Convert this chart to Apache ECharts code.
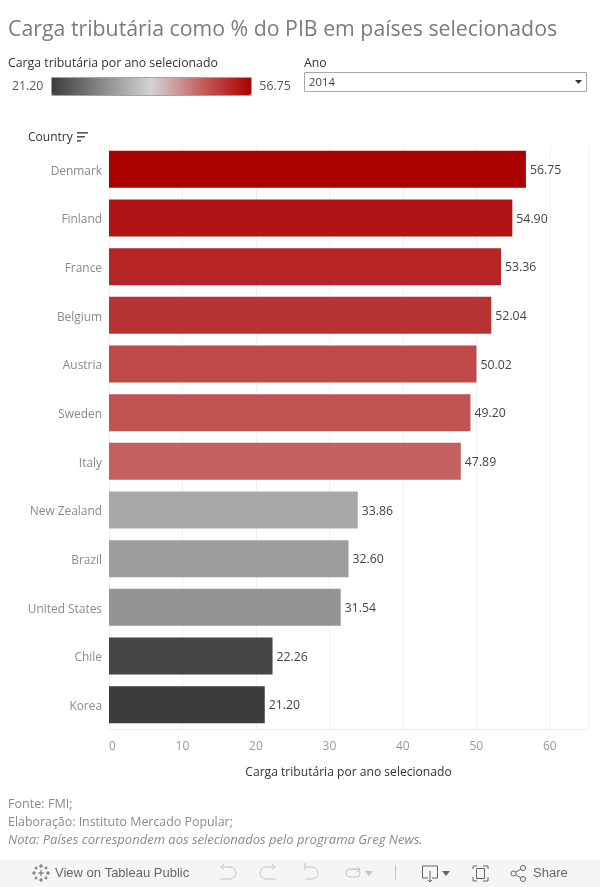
<!DOCTYPE html>
<html><head><meta charset="utf-8">
<style>html,body{margin:0;padding:0;background:#fff}#c{width:600px;height:887px}</style>
<script src="https://cdn.jsdelivr.net/npm/echarts@6/dist/echarts.min.js"></script>
</head><body><div id="c"></div>
<script>
const countries = ['Denmark','Finland','France','Belgium','Austria','Sweden','Italy','New Zealand','Brazil','United States','Chile','Korea'];
const taxLoad = [56.75,54.90,53.36,52.04,50.02,49.20,47.89,33.86,32.60,31.54,22.26,21.20];
const xTicks = [0,10,20,30,40,50,60];
const rampColors = ['#3c3c3c','#888888','#d3d3d3','#c46060','#ab0000'];
const footLines = ['Fonte: FMI;','Elaboração: Instituto Mercado Popular;'];
const footNote = 'Nota: Países correspondem aos selecionados pelo programa Greg News.';
const F = '"Open Sans", Lato, sans-serif';
const T = '"Liberation Sans", Arial, sans-serif';
const chart = echarts.init(document.getElementById('c'),null,{renderer:'canvas'});
const t=(x,y,text,size,fill,extra)=>({type:'text',x,y,silent:true,style:Object.assign({text,fontSize:size,fontFamily:F,fill,textVerticalAlign:'middle'},extra||{})});
const line=(pts,stroke,w)=>({type:'polyline',silent:true,shape:{points:pts},style:{stroke:stroke||'#9a9a9a',lineWidth:w||1,fill:null}});
const ring=(cx,cy,r,stroke)=>({type:'circle',silent:true,shape:{cx,cy,r},style:{fill:'none',stroke,lineWidth:1}});
const arc=(cx,cy,r,a,b,stroke)=>({type:'arc',silent:true,shape:{cx,cy,r,startAngle:a,endAngle:b,clockwise:true},style:{fill:null,stroke,lineWidth:1}});
const G='#c4c4c4', D='#666';
const crossAt=(x,y,s)=>[line([[x-s,y],[x+s,y]],D,1),line([[x,y-s],[x,y+s]],D,1)];
const gfx=[
 t(8,30,'Carga tributária como % do PIB em países selecionados',21.3,'#7b7b7b'),
 t(8,63,'Carga tributária por ano selecionado',12.3,'#333'),
 t(304,63,'Ano',12.3,'#333'),
 {type:'rect',silent:true,shape:{x:304.5,y:72.5,width:282,height:19},style:{fill:'#fff',stroke:'#a8a8a8',lineWidth:1}},
 t(309,83,'2014',11.3,'#444'),
 {type:'polygon',silent:true,shape:{points:[[575,80],[582,80],[578.5,84]]},style:{fill:'#333'}},
 {type:'rect',silent:true,z:10,shape:{x:51.5,y:77.5,width:200,height:18},style:{fill:null,stroke:'#a5a39a',lineWidth:1}},
 line([[151.5,92],[151.5,96]],'#111',1),
 t(28,138,'Country',12,'#333'),
 {type:'rect',silent:true,shape:{x:77,y:132,width:11,height:1.6},style:{fill:'#555'}},
 {type:'rect',silent:true,shape:{x:77,y:136,width:8,height:1.6},style:{fill:'#555'}},
 {type:'rect',silent:true,shape:{x:77,y:140,width:4,height:1.6},style:{fill:'#555'}},
 t(8,804,footLines[0],12.6,'#8a8a8a'),
 t(8,822,footLines[1],12.4,'#8a8a8a'),
 t(8,840,footNote,13,'#8a8a8a',{fontStyle:'italic'}),
 {type:'rect',silent:true,z:-1,shape:{x:0,y:860,width:600,height:27},style:{fill:'#f5f5f5'}},
 t(55,873,'View on Tableau Public',13,D,{fontFamily:T}),
 t(533,873,'Share',13,D,{fontFamily:T}),
 ...crossAt(41,873,3),...crossAt(41,866,2),...crossAt(41,880,2),...crossAt(34,873,2),...crossAt(48,873,2),
 ...crossAt(36,868,1.5),...crossAt(46,868,1.5),...crossAt(36,878,1.5),...crossAt(46,878,1.5),
 line([[222,867],[232,867]],G),arc(230,873,6,-Math.PI/2,Math.PI/2,G),line([[220,879],[230,879]],G),line([[224,864],[221,867],[224,870]],G),
 line([[274,867],[265,867]],G),arc(266,873,6,Math.PI/2,3*Math.PI/2,G),line([[266,879],[276,879]],G),line([[272,864],[275,867],[272,870]],G),
 line([[305,863],[305,870]],G),line([[305,867],[312,867]],G),arc(312,873,6,-Math.PI/2,Math.PI/2,G),line([[305,879],[312,879]],G),
 {type:'rect',silent:true,shape:{x:346,y:869,width:14,height:8,r:4},style:{fill:null,stroke:G,lineWidth:1}},
 line([[352,869],[360,869]],G),line([[357,866],[360,869],[357,872]],G),
 {type:'polygon',silent:true,shape:{points:[[365,871],[373,871],[369,876]]},style:{fill:G}},
 line([[395.5,865],[395.5,880]],G),
 line([[428,878],[422.5,878],[422.5,866],[437.5,866],[437.5,878],[432,878]],D),line([[430,871],[430,882]],D),line([[428,880],[430,882],[432,880]],D),
 {type:'polygon',silent:true,shape:{points:[[442,871],[450,871],[446,876]]},style:{fill:D}},
 line([[473,869],[473,866],[477,866]],D),line([[483,866],[488,866],[488,869]],D),line([[473,877],[473,881],[477,881]],D),line([[483,881],[488,881],[488,877]],D),
 {type:'rect',silent:true,shape:{x:476.5,y:868.5,width:8,height:10},style:{fill:null,stroke:D,lineWidth:1}},
 ring(513.5,873.5,2.5,D),ring(523,868,2.5,D),ring(523,879,2.5,D),line([[516,872],[521,869]],D),line([[516,875],[521,878]],D)
];
chart.setOption({
 animation:false,backgroundColor:'#fff',
 grid:{left:109,right:12,top:145,bottom:158},
 xAxis:{type:'value',min:0,max:65.2,interval:10,
  name:'Carga tributária por ano selecionado',nameLocation:'middle',nameGap:38,
  nameTextStyle:{fontFamily:F,fontSize:12.1,color:'#333'},
  axisLine:{show:true,lineStyle:{color:'#ececec'}},axisTick:{show:false},
  splitLine:{show:true,lineStyle:{color:'#f0f0f0'}},
  axisLabel:{fontFamily:F,fontSize:12,color:'#999',margin:12,alignMinLabel:'left',customValues:xTicks}},
 yAxis:{type:'category',inverse:true,data:countries,
  axisLine:{show:false},axisTick:{show:false},
  axisLabel:{fontFamily:F,fontSize:11.9,color:'#8a8a8a',margin:7,verticalAlign:'top',lineHeight:4}},
 visualMap:{type:'continuous',orient:'horizontal',dimension:0,min:21.2,max:56.75,left:-3,top:62,itemWidth:18,itemHeight:200,
  calculable:false,realtime:false,text:['56.75','21.20'],textGap:8,textStyle:{fontFamily:F,fontSize:12.3,color:'#555'},
  inRange:{color:rampColors},seriesIndex:0,hoverLink:false},
 series:[{type:'bar',data:taxLoad,barWidth:37,
  label:{show:true,position:'right',distance:4,offset:[0,1],fontFamily:F,fontSize:12.3,color:'#444',formatter:p=>p.value.toFixed(2)}}],
 graphic:gfx
});
</script></body></html>
